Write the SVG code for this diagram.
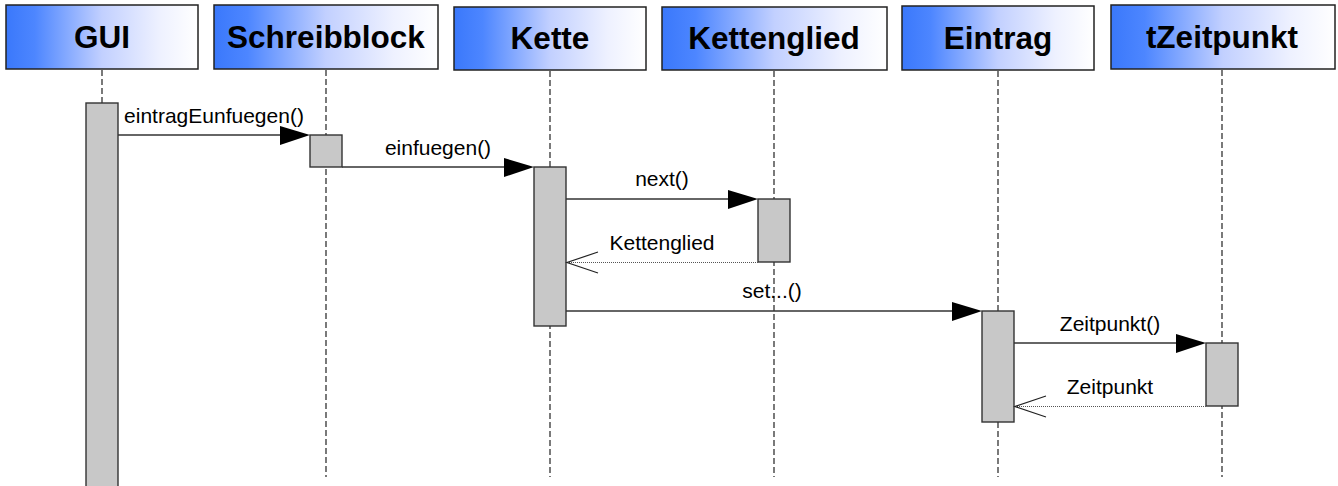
<svg xmlns="http://www.w3.org/2000/svg" width="1338" height="486" viewBox="0 0 1338 486">
<style>
.hdr{stroke:#222;stroke-width:1.5;fill:url(#hg)}
.ht{font-family:"Liberation Sans",Arial,sans-serif;font-weight:bold;font-size:31.5px;fill:#000;text-anchor:middle}
.life{stroke:#222;stroke-width:1.2;stroke-dasharray:6 3;fill:none}
.act{fill:#c8c8c8;stroke:#333;stroke-width:1.4}
.msg{stroke:#333;stroke-width:1.4;fill:none}
.ret{stroke:#555;stroke-width:1;stroke-dasharray:1 1;fill:none}
.ml{font-family:"Liberation Sans",Arial,sans-serif;font-size:21px;fill:#000;text-anchor:middle}
.head{fill:#000}
.open{stroke:#222;stroke-width:1.2;fill:none}
</style>
<defs>
<linearGradient id="hg" x1="0" y1="0" x2="1" y2="0">
<stop offset="0" stop-color="#3a78fb"/>
<stop offset="0.15" stop-color="#4d86ff"/>
<stop offset="0.5" stop-color="#c2d0ff"/>
<stop offset="0.8" stop-color="#eef1ff"/>
<stop offset="1" stop-color="#ffffff"/>
</linearGradient>
</defs>
<rect width="1338" height="486" fill="#fff"/>
<g id="lifelines">
<line class="life" x1="102" y1="70" x2="102" y2="486"/>
<line class="life" x1="326" y1="70" x2="326" y2="477"/>
<line class="life" x1="550" y1="71" x2="550" y2="477"/>
<line class="life" x1="774" y1="71" x2="774" y2="477"/>
<line class="life" x1="998" y1="71" x2="998" y2="477"/>
<line class="life" x1="1222" y1="70" x2="1222" y2="477"/>
</g>
<g id="GUI"><rect class="hdr" x="6" y="5" width="192" height="64"/><text class="ht" x="102" y="48">GUI</text>
<rect class="act" x="86" y="103" width="32" height="390"/></g>
<g id="Schreibblock"><rect class="hdr" x="214" y="5" width="224" height="64"/><text class="ht" x="326" y="48">Schreibblock</text>
<rect class="act" x="310" y="135" width="32" height="32"/></g>
<g id="Kette"><rect class="hdr" x="454" y="7" width="192" height="63"/><text class="ht" x="550" y="49">Kette</text>
<rect class="act" x="534" y="167" width="32" height="159"/></g>
<g id="Kettenglied"><rect class="hdr" x="662" y="7" width="225" height="63"/><text class="ht" x="774" y="49">Kettenglied</text>
<rect class="act" x="758" y="199" width="32" height="63"/></g>
<g id="Eintrag"><rect class="hdr" x="902" y="6" width="192" height="64"/><text class="ht" x="998" y="49">Eintrag</text>
<rect class="act" x="982" y="311" width="32" height="111"/></g>
<g id="tZeitpunkt"><rect class="hdr" x="1111" y="5" width="224" height="64"/><text class="ht" x="1222" y="48">tZeitpunkt</text>
<rect class="act" x="1206" y="343" width="32" height="63"/></g>
<g id="connectors">
<line class="msg" x1="118" y1="135" x2="282" y2="135"/>
<polygon class="head" points="280,126 310,135 280,145"/>
<text class="ml" x="214" y="123">eintragEunfuegen()</text>
<line class="msg" x1="342" y1="167" x2="506" y2="167"/>
<polygon class="head" points="504,158 534,167 504,177"/>
<text class="ml" x="438" y="155">einfuegen()</text>
<line class="msg" x1="566" y1="199" x2="730" y2="199"/>
<polygon class="head" points="728,190 758,199 728,209"/>
<text class="ml" x="662" y="186">next()</text>
<line class="ret" x1="758" y1="262.5" x2="567" y2="262.5"/>
<polyline class="open" points="598,252 567,262.5 598,273"/>
<text class="ml" x="662" y="250">Kettenglied</text>
<line class="msg" x1="566" y1="311" x2="954" y2="311"/>
<polygon class="head" points="952,302 982,311 952,321"/>
<text class="ml" x="772" y="298">set...()</text>
<line class="msg" x1="1014" y1="343" x2="1178" y2="343"/>
<polygon class="head" points="1176,334 1206,343 1176,353"/>
<text class="ml" x="1110" y="331">Zeitpunkt()</text>
<line class="ret" x1="1206" y1="406.5" x2="1015" y2="406.5"/>
<polyline class="open" points="1046,396 1015,406.5 1046,417"/>
<text class="ml" x="1110" y="394">Zeitpunkt</text>
</g>
</svg>
